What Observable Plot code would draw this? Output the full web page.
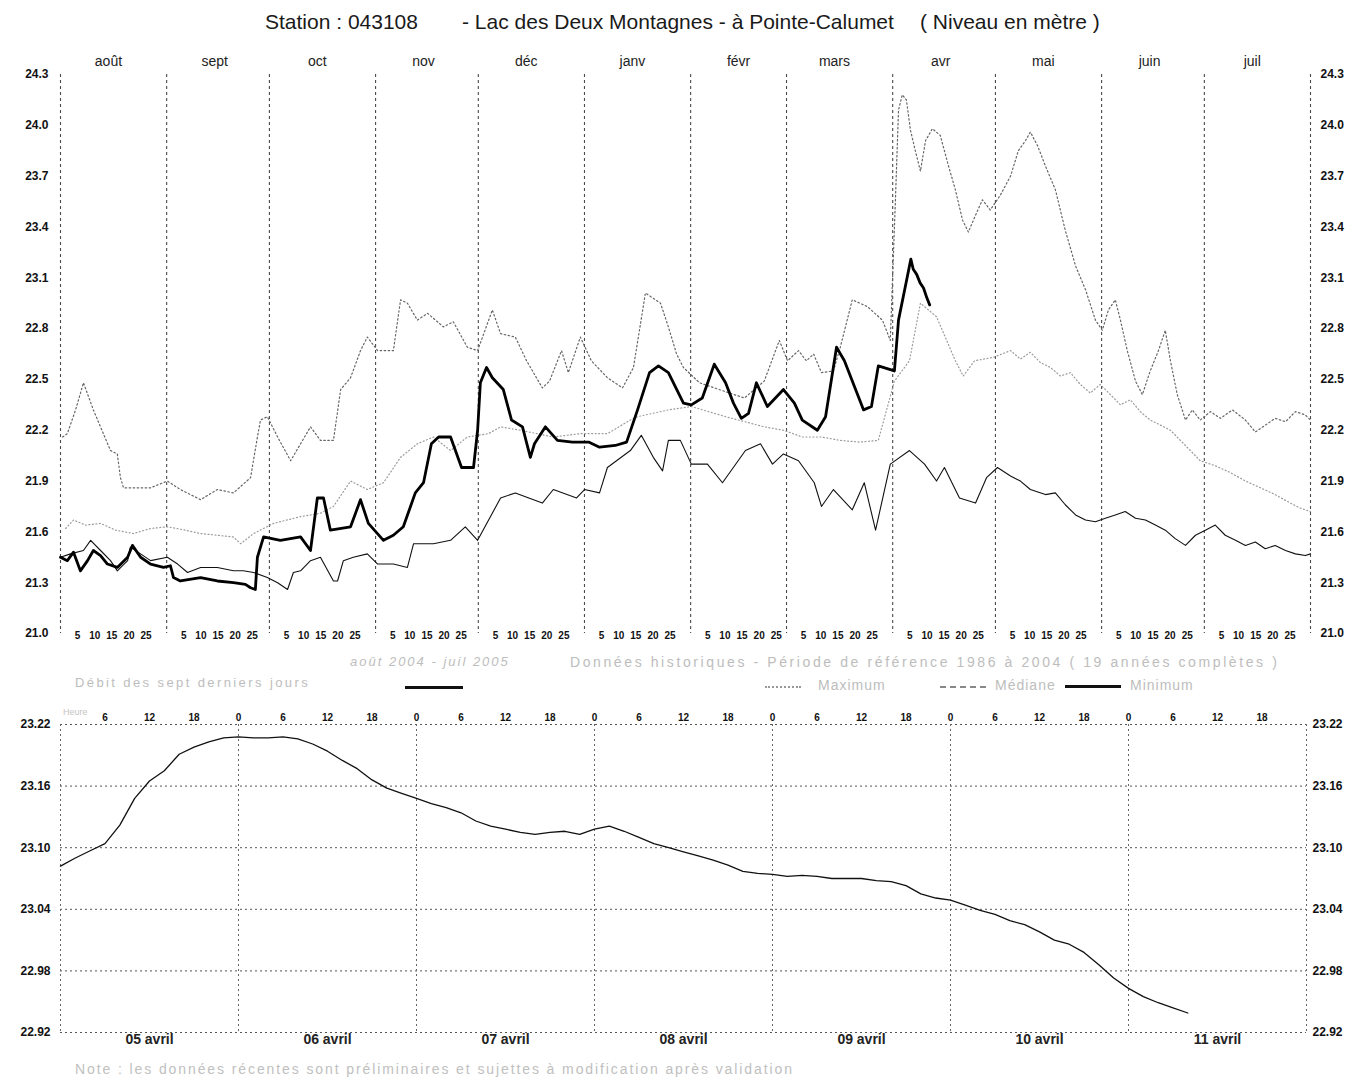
<!DOCTYPE html>
<html><head><meta charset="utf-8">
<script src="https://cdn.jsdelivr.net/npm/d3@7"></script>
<script src="https://cdn.jsdelivr.net/npm/@observablehq/plot@0.6"></script>
<style>
body{margin:0;background:#fff;}
#wrap{position:relative;width:1361px;height:1084px;overflow:hidden;font-family:"Liberation Sans",Arial,sans-serif;background:#fff;}
.abs{position:absolute;white-space:nowrap;line-height:1;}
</style></head><body><div id="wrap"></div>
<script>
// ---------- DATA ----------
const titleStation = "Station : 043108";
const titleName = "-  Lac des Deux Montagnes - à Pointe-Calumet";
const titleUnit = "( Niveau en mètre )";
const monthLabels = ["août","sept","oct","nov","déc","janv","févr","mars","avr","mai","juin","juil"];
const dayTickLabels = [5, 10, 15, 20, 25];
const yTicksTop = [21.0, 21.3, 21.6, 21.9, 22.2, 22.5, 22.8, 23.1, 23.4, 23.7, 24.0, 24.3];
// [days since 1 Aug 2004, level in m]
const current = [[0,21.45],[2.0,21.43],[3.8,21.48],[5.8,21.37],[7.9,21.43],[9.6,21.49],[11.7,21.46],[13.7,21.41],[16.6,21.39],[19.6,21.45],[21.0,21.52],[23.4,21.45],[26.3,21.41],[30.1,21.39],[32.1,21.40],[33.0,21.33],[35.0,21.31],[40.9,21.33],[45.8,21.31],[50.5,21.30],[54.0,21.29],[55.5,21.27],[56.9,21.26],[57.5,21.45],[59.3,21.57],[64.2,21.55],[70.1,21.57],[73.0,21.49],[75.0,21.80],[76.8,21.80],[78.8,21.61],[84.7,21.63],[87.6,21.79],[89.9,21.65],[94.3,21.55],[97.2,21.58],[100.1,21.63],[102.2,21.75],[103.6,21.83],[106.0,21.89],[108.3,22.12],[110.4,22.16],[113.9,22.16],[117.1,21.98],[120.6,21.98],[121.8,22.20],[122.6,22.48],[124.4,22.57],[126.1,22.51],[129.3,22.44],[131.7,22.26],[134.9,22.22],[137.2,22.04],[138.4,22.12],[141.6,22.22],[145.1,22.14],[149.5,22.13],[154.2,22.13],[157.4,22.10],[162.0,22.11],[165.3,22.13],[168.5,22.32],[172.0,22.54],[174.6,22.58],[177.5,22.54],[181.9,22.36],[184.2,22.35],[187.4,22.39],[190.9,22.59],[194.2,22.48],[196.5,22.36],[198.8,22.27],[200.9,22.30],[203.2,22.48],[206.4,22.34],[211.1,22.44],[214.3,22.36],[216.6,22.26],[221.0,22.20],[223.4,22.28],[226.6,22.69],[228.9,22.61],[234.5,22.32],[236.8,22.34],[238.8,22.58],[243.5,22.55],[244.7,22.85],[247.0,23.08],[248.3,23.21],[249.0,23.15],[250.0,23.12],[251.0,23.07],[252.0,23.04],[253.0,22.98],[253.8,22.94]];
const maximum = [[0.6,22.16],[2.0,22.18],[4.4,22.32],[6.7,22.48],[9.6,22.32],[14.6,22.08],[16.6,22.06],[17.5,21.92],[18.4,21.86],[26.3,21.86],[31.2,21.90],[35.0,21.85],[40.9,21.79],[45.8,21.85],[50.5,21.83],[55.5,21.92],[57.5,22.16],[58.4,22.26],[60.4,22.28],[63.4,22.16],[67.2,22.02],[70.1,22.12],[73.0,22.22],[75.9,22.14],[79.7,22.14],[81.8,22.44],[84.7,22.51],[87.6,22.67],[89.6,22.75],[92.6,22.67],[97.2,22.67],[99.3,22.97],[101.3,22.95],[104.2,22.85],[107.2,22.89],[111.8,22.81],[114.7,22.84],[118.8,22.69],[121.8,22.67],[126.1,22.91],[128.5,22.77],[132.8,22.75],[136.1,22.61],[140.7,22.45],[142.8,22.49],[146.3,22.67],[148.3,22.54],[151.8,22.75],[155.0,22.61],[159.7,22.51],[164.1,22.45],[167.3,22.57],[170.8,23.01],[175.2,22.95],[177.5,22.81],[179.9,22.65],[181.9,22.57],[186.6,22.48],[190.9,22.45],[195.3,22.42],[199.7,22.39],[205.5,22.49],[209.9,22.73],[212.3,22.61],[215.5,22.67],[217.8,22.61],[219.9,22.65],[222.2,22.54],[225.7,22.55],[227.7,22.69],[231.2,22.97],[235.6,22.93],[240.0,22.85],[242.3,22.73],[243.8,23.56],[244.7,24.09],[245.8,24.18],[247.0,24.15],[248.2,23.97],[249.6,23.85],[251.1,23.73],[252.6,23.91],[254.6,23.98],[256.9,23.94],[259.3,23.76],[261.3,23.62],[263.4,23.44],[265.1,23.37],[267.2,23.47],[269.2,23.56],[271.5,23.50],[274.5,23.59],[277.4,23.70],[279.7,23.85],[281.8,23.91],[283.2,23.96],[285.3,23.88],[287.6,23.76],[290.5,23.62],[293.4,23.38],[296.4,23.17],[299.3,23.03],[302.2,22.85],[304.2,22.79],[306.0,22.91],[308.0,22.97],[309.5,22.85],[311.5,22.67],[313.9,22.49],[315.9,22.41],[318.2,22.55],[320.6,22.67],[322.6,22.79],[324.1,22.61],[326.1,22.41],[328.5,22.26],[330.5,22.32],[332.8,22.26],[335.8,22.31],[338.7,22.27],[342.2,22.32],[346.0,22.26],[348.9,22.19],[351.8,22.23],[354.7,22.27],[357.7,22.25],[360.6,22.31],[363.5,22.29],[365,22.26]];
const median = [[1.5,21.62],[3.8,21.67],[7.3,21.64],[11.7,21.65],[16.1,21.61],[21.3,21.59],[26.3,21.62],[31.2,21.63],[36.5,21.61],[40.9,21.59],[45.8,21.58],[50.5,21.57],[52.6,21.53],[56.4,21.59],[62.2,21.65],[70.1,21.69],[75.9,21.71],[79.7,21.75],[84.7,21.90],[89.6,21.85],[94.3,21.89],[99.3,22.04],[104.2,22.12],[108.9,22.16],[113.9,22.08],[118.8,22.16],[125.0,22.18],[128.5,22.22],[134.3,22.20],[143.9,22.16],[151.8,22.18],[159.7,22.18],[166.4,22.26],[168.5,22.28],[177.5,22.32],[184.2,22.34],[194.2,22.28],[205.5,22.22],[211.1,22.20],[216.6,22.16],[222.2,22.16],[227.7,22.14],[233.3,22.13],[238.8,22.14],[243.5,22.49],[247.9,22.61],[251.1,22.95],[255.8,22.87],[261.3,22.61],[263.6,22.52],[266.9,22.61],[272.4,22.63],[277.4,22.67],[280.3,22.62],[283.2,22.66],[286.1,22.60],[289.1,22.57],[292.0,22.52],[294.9,22.54],[297.8,22.47],[300.7,22.42],[303.6,22.47],[306.6,22.41],[309.5,22.35],[312.4,22.38],[315.3,22.31],[318.2,22.26],[321.2,22.23],[324.1,22.20],[327.0,22.14],[329.9,22.08],[332.8,22.02],[337.2,21.99],[341.6,21.95],[346.0,21.90],[350.4,21.86],[354.7,21.82],[359.1,21.77],[362.0,21.74],[365,21.72]];
const minimum = [[0,21.45],[2.9,21.47],[6.7,21.49],[8.8,21.55],[11.7,21.49],[14.6,21.43],[16.6,21.37],[19.6,21.43],[20.4,21.51],[23.4,21.47],[26.3,21.43],[31.2,21.45],[34.2,21.41],[37.1,21.36],[40.9,21.39],[45.8,21.39],[50.5,21.37],[53.4,21.37],[56.4,21.36],[60.4,21.33],[63.4,21.30],[66.3,21.26],[68.0,21.36],[70.1,21.37],[73.0,21.43],[75.9,21.45],[79.7,21.31],[80.9,21.31],[82.6,21.43],[85.5,21.45],[89.6,21.47],[92.6,21.41],[97.2,21.41],[101.3,21.39],[103.1,21.53],[108.9,21.53],[113.9,21.55],[118.2,21.63],[121.8,21.55],[128.5,21.80],[132.8,21.83],[140.7,21.77],[143.9,21.85],[150.7,21.80],[153.0,21.85],[157.4,21.83],[159.7,21.98],[166.4,22.08],[169.6,22.17],[173.1,22.04],[175.8,21.96],[177.5,22.14],[181.0,22.14],[184.2,22.00],[188.9,22.00],[193.3,21.89],[200.0,22.08],[204.4,22.12],[207.9,22.00],[211.1,22.06],[215.5,22.02],[220.1,21.89],[222.2,21.75],[225.7,21.85],[231.2,21.73],[234.7,21.89],[238.0,21.61],[242.3,22.00],[247.9,22.08],[252.3,22.00],[255.8,21.90],[258.1,21.98],[262.5,21.80],[267.2,21.77],[270.4,21.92],[273.6,21.98],[277.4,21.93],[280.3,21.90],[283.2,21.85],[287.6,21.82],[290.5,21.83],[293.4,21.76],[296.4,21.70],[299.3,21.67],[302.2,21.66],[305.1,21.68],[308.0,21.70],[310.9,21.72],[313.9,21.68],[316.8,21.67],[319.7,21.64],[322.6,21.61],[325.5,21.56],[328.5,21.52],[331.4,21.58],[334.3,21.61],[337.2,21.64],[340.1,21.58],[343.1,21.55],[346.0,21.52],[348.9,21.54],[351.8,21.50],[354.7,21.52],[357.7,21.49],[360.6,21.47],[363.5,21.46],[365,21.47]];
// last seven days, one reading every 2 hours from 05 avril 00:00
const recentStart = "2005-04-05T00:00:00Z";
const recentStepHours = 2;
const recent = [23.082,23.090,23.097,23.104,23.122,23.148,23.165,23.175,23.191,23.198,23.203,23.207,23.208,23.207,23.207,23.208,23.206,23.201,23.194,23.185,23.177,23.166,23.158,23.153,23.148,23.143,23.139,23.134,23.126,23.121,23.118,23.115,23.113,23.115,23.116,23.113,23.118,23.121,23.116,23.110,23.104,23.100,23.096,23.092,23.088,23.083,23.077,23.075,23.074,23.072,23.073,23.072,23.070,23.070,23.070,23.068,23.067,23.063,23.055,23.051,23.049,23.044,23.039,23.035,23.029,23.025,23.018,23.010,23.006,22.998,22.986,22.973,22.963,22.955,22.949,22.944,22.939];
const yTicksBottom = [22.92, 22.98, 23.04, 23.10, 23.16, 23.22];
const dayLabels = ["05 avril","06 avril","07 avril","08 avril","09 avril","10 avril","11 avril"];
const legendRecent = "Débit des sept derniers jours";
const legendYear = "août 2004 - juil 2005";
const legendHist = "Données historiques - Période de référence 1986 à 2004 ( 19 années complètes )";
const legendSeries = ["Maximum", "Médiane", "Minimum"];
const noteText = "Note : les données récentes sont préliminaires et sujettes à modification après validation";

// ---------- BUILD ----------
const wrap = document.getElementById("wrap");
function addText(txt, left, top, style) {
  const d = document.createElement("div");
  d.className = "abs"; d.textContent = txt;
  d.style.left = left + "px"; d.style.top = top + "px";
  Object.assign(d.style, style || {});
  wrap.appendChild(d); return d;
}
function addBox(left, top, width, style) {
  const d = document.createElement("div");
  d.className = "abs";
  d.style.left = left + "px"; d.style.top = top + "px"; d.style.width = width + "px";
  Object.assign(d.style, style);
  wrap.appendChild(d); return d;
}

const titleFont = {fontFamily: '"Liberation Sans",Arial,sans-serif', fontSize: "21px", color: "#1a1a1a"};
addText(titleStation, 265, 11, titleFont);
addText(titleName, 462, 11, titleFont);
addText(titleUnit, 920, 11, titleFont);

const start = new Date(Date.UTC(2004, 7, 1));
const end = new Date(Date.UTC(2005, 7, 1));
const dayToDate = d => new Date(start.getTime() + d * 864e5);
const toRows = arr => arr.map(([d, v]) => ({date: dayToDate(d), value: v}));
const monthStarts = d3.utcMonth.range(start, d3.utcDay.offset(end, 1));
const monthMid = monthStarts.slice(0, 12).map((m, i) => ({date: d3.utcDay.offset(m, 14), label: monthLabels[i]}));
const dayTicks = monthStarts.slice(0, 12).flatMap(m => dayTickLabels.map(k => ({date: d3.utcDay.offset(m, k), label: String(k)})));

const axisFont = {fontWeight: "bold", fontSize: 12, fill: "#111", label: null};
const topChart = Plot.plot({
  width: 1361, height: 655,
  marginLeft: 60, marginRight: 51, marginTop: 74, marginBottom: 22,
  style: {background: "transparent", fontFamily: "Liberation Sans, Arial, sans-serif", overflow: "visible"},
  x: {type: "utc", domain: [start, end], axis: null},
  y: {domain: [21.0, 24.3], axis: null},
  marks: [
    Plot.ruleX(monthStarts, {stroke: "#4a4a4a", strokeDasharray: "3,3", strokeWidth: 1.1}),
    Plot.axisY(yTicksTop, {anchor: "left", tickSize: 0, tickPadding: 12, tickFormat: d => d.toFixed(1), ...axisFont}),
    Plot.axisY(yTicksTop, {anchor: "right", tickSize: 0, tickPadding: 10, tickFormat: d => d.toFixed(1), ...axisFont}),
    Plot.text(monthMid, {x: "date", text: "label", frameAnchor: "top", dy: -18, fontSize: 14, fill: "#222"}),
    Plot.text(dayTicks, {x: "date", text: "label", frameAnchor: "bottom", dy: 5, fontSize: 10, fontWeight: "bold", fill: "#111"}),
    Plot.line(toRows(median), {x: "date", y: "value", stroke: "#9a9a9a", strokeWidth: 1.2, strokeDasharray: "1,2.5"}),
    Plot.line(toRows(maximum), {x: "date", y: "value", stroke: "#666", strokeWidth: 1.2, strokeDasharray: "1.5,2.5"}),
    Plot.line(toRows(minimum), {x: "date", y: "value", stroke: "#111", strokeWidth: 1.1}),
    Plot.line(toRows(current), {x: "date", y: "value", stroke: "#000", strokeWidth: 2.8, strokeLinejoin: "round"})
  ]
});
topChart.style.position = "absolute"; topChart.style.left = "0px"; topChart.style.top = "0px";
wrap.appendChild(topChart);

// legend row
const legFont = {fontSize: "13px", color: "#bdbdbd"};
addText(legendRecent, 75, 676, {...legFont, letterSpacing: "2.4px"});
addText(legendYear, 350, 655, {...legFont, fontStyle: "italic", letterSpacing: "2px"});
addBox(405, 686, 58, {height: "3px", background: "#111"});
addText(legendHist, 570, 655, {...legFont, fontSize: "14px", letterSpacing: "2.6px"});
addBox(765, 686, 36, {borderTop: "2px dotted #999", height: "0px"});
addText(legendSeries[0], 818, 678, {...legFont, fontSize: "14px", letterSpacing: "1px"});
addBox(940, 686, 46, {borderTop: "2px dashed #888", height: "0px"});
addText(legendSeries[1], 995, 678, {...legFont, fontSize: "14px", letterSpacing: "1px"});
addBox(1065, 685, 56, {height: "3px", background: "#111"});
addText(legendSeries[2], 1130, 678, {...legFont, fontSize: "14px", letterSpacing: "1px"});

// bottom chart
const rStart = new Date(recentStart);
const recentRows = recent.map((v, i) => ({date: d3.utcHour.offset(rStart, i * recentStepHours), value: v}));
const bEnd = d3.utcDay.offset(rStart, 7);
const midnights = d3.utcDay.range(rStart, d3.utcDay.offset(bEnd, 1));
const hourTicks = d3.utcHour.every(6).range(d3.utcHour.offset(rStart, 6), bEnd);
const dayLabelRows = dayLabels.map((l, i) => ({date: d3.utcHour.offset(rStart, i * 24 + 12), label: l}));

const bottomChart = Plot.plot({
  width: 1361, height: 364,
  marginLeft: 60, marginRight: 55, marginTop: 34, marginBottom: 22,
  style: {background: "transparent", fontFamily: "Liberation Sans, Arial, sans-serif", overflow: "visible"},
  x: {type: "utc", domain: [rStart, bEnd], axis: null},
  y: {domain: [22.92, 23.22], axis: null},
  marks: [
    Plot.gridY(yTicksBottom, {stroke: "#555", strokeOpacity: 1, strokeDasharray: "2,3"}),
    Plot.ruleX(midnights, {stroke: "#666", strokeDasharray: "2,3"}),
    Plot.axisY(yTicksBottom, {anchor: "left", tickSize: 0, tickPadding: 10, tickFormat: d => d.toFixed(2), ...axisFont}),
    Plot.axisY(yTicksBottom, {anchor: "right", tickSize: 0, tickPadding: 6, tickFormat: d => d.toFixed(2), ...axisFont}),
    Plot.text(hourTicks, {x: d => d, text: d => String(d.getUTCHours()), frameAnchor: "top", dy: -11, fontSize: 10, fontWeight: "bold", fill: "#111"}),
    Plot.text(dayLabelRows, {x: "date", text: "label", frameAnchor: "bottom", dy: 11, fontSize: 14, fontWeight: "bold", fill: "#222"}),
    Plot.line(recentRows, {x: "date", y: "value", stroke: "#111", strokeWidth: 1.3})
  ]
});
bottomChart.style.position = "absolute"; bottomChart.style.left = "0px"; bottomChart.style.top = "690px";
wrap.appendChild(bottomChart);
addText("Heure", 63, 708, {fontSize: "9px", color: "#c4c4c4"});

addText(noteText, 75, 1062, {fontSize: "14px", color: "#c0c0c0", letterSpacing: "1.9px"});
</script></body></html>
